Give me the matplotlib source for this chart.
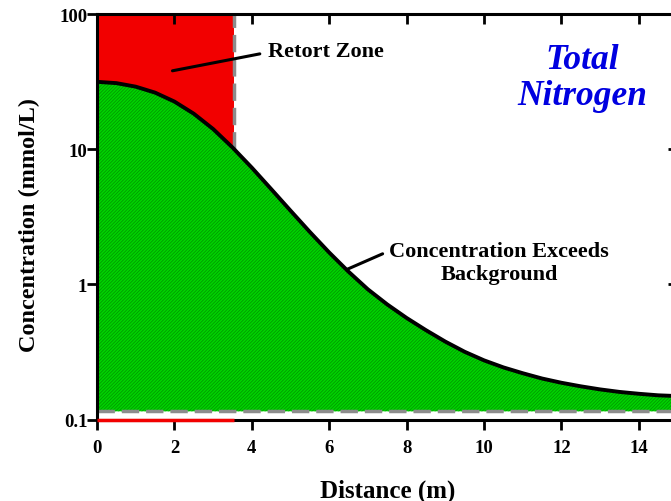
import matplotlib
matplotlib.use("Agg")
import matplotlib.pyplot as plt
from matplotlib.patches import Rectangle

# Total nitrogen concentration profile away from the retort
distance_m = [0, 0.5, 1, 1.5, 2, 2.5, 3, 3.5, 4, 4.5, 5, 5.5, 6, 6.5, 7, 7.5,
              8, 8.5, 9, 9.5, 10, 10.5, 11, 11.5, 12, 12.5, 13, 13.5, 14, 14.5, 15]
conc_mmol_l = [31.5, 30.8, 29.0, 26.2, 22.5, 18.3, 14.1, 10.3, 7.3, 5.07, 3.51,
               2.44, 1.72, 1.24, 0.918, 0.710, 0.564, 0.458, 0.377, 0.317, 0.274,
               0.243, 0.220, 0.201, 0.187, 0.176, 0.167, 0.160, 0.155, 0.151, 0.149]
background = 0.115
retort_edge = 3.55

x_ticks = [0, 2, 4, 6, 8, 10, 12, 14]
y_ticks = [0.1, 1, 10, 100]
y_tick_labels = ["0.1", "1", "10", "100"]

plt.rcParams["font.family"] = ["Liberation Serif", "DejaVu Serif"]
plt.rcParams["font.weight"] = "bold"
plt.rcParams["hatch.linewidth"] = 0.6

fig = plt.figure(figsize=(6.71, 5.02), dpi=100)
ax = fig.add_axes([97 / 671, 81.5 / 502, 580.5 / 671, 405.5 / 502])
ax.set_yscale("log")
ax.set_xlim(0, 15)
ax.set_ylim(0.1, 100)

# retort zone
ax.add_patch(Rectangle((0, background), retort_edge, 100 - background,
                       facecolor="#f20000", edgecolor="none", zorder=1))
ax.plot([0, retort_edge], [0.1, 0.1], color="#f20000", lw=2.5, zorder=6,
        clip_on=False, solid_capstyle="butt")

# region above background
ax.fill_between(distance_m, background, conc_mmol_l, facecolor="#00d400",
                edgecolor="#009a00", hatch="//////////", linewidth=0, zorder=2)
ax.plot(distance_m, conc_mmol_l, color="black", lw=2.8, zorder=4,
        solid_joinstyle="round")

ax.axhline(background, color="#8c8c8c", lw=2.5, ls=(0, (5, 2)), zorder=3)
ax.plot([retort_edge, retort_edge], [10.0, 100], color="#8c8c8c", lw=2.5,
        ls=(0, (5, 2)), zorder=3)

ax.set_xticks(x_ticks)
ax.set_yticks(y_ticks)
ax.set_yticklabels(y_tick_labels)
ax.minorticks_off()
ax.tick_params(axis="both", which="major", labelsize=13.5, width=2, length=7,
               direction="out")
ax.tick_params(axis="x", top=True, pad=7)
ax.tick_params(axis="y", right=True, pad=0)
for t in ax.get_xticklabels() + ax.get_yticklabels():
    t.set_fontweight("bold")
# ticks on the top and right spines point inward
for tick in ax.xaxis.get_major_ticks():
    tick.tick2line.set_marker(3)
for tick in ax.yaxis.get_major_ticks():
    tick.tick2line.set_marker(0)
for s in ax.spines.values():
    s.set_linewidth(2.2)
    s.set_zorder(5)

ax.set_xlabel("Distance (m)", fontsize=18, fontweight="bold", labelpad=16)
ax.set_ylabel("Concentration (mmol/L)", fontsize=17.5, fontweight="bold")
ax.yaxis.set_label_coords(-0.098, 0.482)

ax.annotate("Retort Zone", xy=(1.95, 38), xytext=(4.42, 53),
            fontsize=16, fontweight="bold", va="center", ha="left",
            arrowprops=dict(arrowstyle="-", color="black", lw=2.2,
                            shrinkA=4, shrinkB=0, relpos=(0.0, 0.45)),
            zorder=7)
ax.annotate("Concentration Exceeds\nBackground", xy=(6.46, 1.29),
            xytext=(10.39, 1.45), fontsize=16, fontweight="bold",
            va="center", ha="center", linespacing=1.2,
            arrowprops=dict(arrowstyle="-", color="black", lw=2.2,
                            shrinkA=3, shrinkB=0,
                            relpos=(0.0, 0.77)), zorder=7)
ax.text(12.55, 34, "Total\nNitrogen", fontsize=25.5, fontweight="bold",
        style="italic", color="#0000e0", ha="center", va="center",
        linespacing=1.13)

fig.savefig("out.png", dpi=100)
